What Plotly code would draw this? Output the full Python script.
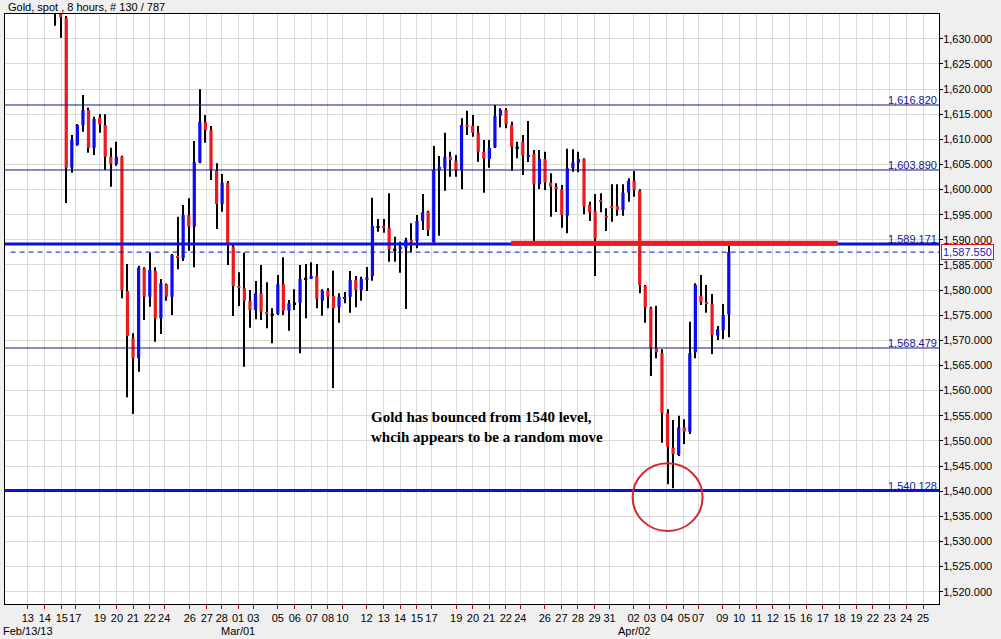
import plotly.graph_objects as go

# ---------------- data (8-hour candles, index = bar number) ----------------
bar_idx = list(range(9, 131))

opens = [1641.0, 1636.5, 1634.1, 1604.35, 1608.86, 1612.84, 1615.83, 1608.33, 1614.29, 1612.84,
         1606.53, 1605.08, 1606.53, 1579.82, 1570.41, 1566.43, 1584.33, 1578.68, 1583.8, 1574.39,
         1581.15, 1578.68, 1586.78, 1586.33, 1594.94, 1592.61, 1605.42, 1613.38, 1611.85, 1603.75,
         1597.13, 1601.36, 1588.63, 1580.81, 1580.35, 1577.83, 1576.04, 1579.36, 1575.58, 1575.18,
         1575.24, 1581.15, 1575.9, 1577.37, 1577.49, 1582.34, 1582.27, 1582.8, 1577.88, 1579.87,
         1578.82, 1576.57, 1578.23, 1578.68, 1582.0, 1580.02, 1582.0, 1582.8, 1592.61, 1592.75,
         1592.41, 1588.11, 1588.17, 1588.43, 1589.96, 1589.76, 1593.74, 1595.59, 1589.51, 1603.89,
         1604.23, 1606.53, 1605.68, 1603.89, 1612.9, 1612.64, 1611.31, 1607.53, 1606.08, 1608.41,
         1614.69, 1615.83, 1612.84, 1608.41, 1609.52, 1606.67, 1607.07, 1601.04, 1606.08, 1601.36,
         1600.57, 1600.05, 1594.8, 1604.29, 1605.34, 1606.08, 1596.93, 1595.73, 1597.92, 1594.6,
         1596.73, 1596.73, 1595.93, 1599.37, 1601.76, 1599.77, 1580.81, 1576.38, 1568.42, 1567.42,
         1555.49, 1548.64, 1547.19, 1552.7, 1551.83, 1567.62, 1578.82, 1577.49, 1577.23, 1570.93,
         1572.06, 1575.18]
highs = [1645.0, 1637.5, 1634.5, 1610.85, 1613.04, 1618.81, 1616.29, 1614.49, 1614.97, 1614.97,
         1608.33, 1609.52, 1606.73, 1585.19, 1571.4, 1584.85, 1584.53, 1587.44, 1584.53, 1582.2,
         1581.3, 1587.2, 1594.6, 1596.93, 1598.26, 1609.66, 1619.95, 1614.83, 1612.64, 1605.22,
         1603.09, 1601.7, 1588.97, 1583.54, 1587.44, 1580.02, 1581.81, 1584.99, 1581.55, 1576.38,
         1583.0, 1586.52, 1578.03, 1580.16, 1584.99, 1585.19, 1585.53, 1585.19, 1580.16, 1580.35,
         1583.86, 1579.36, 1579.62, 1583.8, 1582.8, 1582.66, 1584.6, 1598.38, 1594.14, 1594.14,
         1599.25, 1590.62, 1589.63, 1590.42, 1593.28, 1594.93, 1599.11, 1595.79, 1608.66, 1606.67,
         1611.31, 1607.53, 1606.87, 1614.17, 1615.69, 1614.83, 1612.64, 1609.86, 1609.86, 1616.82,
         1616.16, 1616.16, 1613.5, 1609.5, 1610.85, 1613.64, 1607.87, 1607.87, 1607.53, 1603.23,
         1601.24, 1600.91, 1608.1, 1608.0, 1607.53, 1606.2, 1597.58, 1599.12, 1599.25, 1596.27,
         1601.04, 1601.04, 1601.04, 1602.24, 1603.7, 1600.05, 1581.01, 1576.7, 1576.9, 1568.22,
         1556.28, 1554.16, 1555.01, 1554.3, 1573.71, 1581.35, 1583.0, 1581.01, 1579.22, 1572.85,
         1577.23, 1588.83]
lows = [1632.6, 1630.2, 1597.3, 1603.35, 1608.72, 1611.51, 1607.33, 1606.87, 1611.31, 1603.89,
        1600.57, 1604.75, 1578.36, 1558.67, 1555.35, 1563.76, 1574.05, 1576.69, 1569.73, 1571.27,
        1577.88, 1575.04, 1584.13, 1585.79, 1587.84, 1584.53, 1605.22, 1609.32, 1601.9, 1592.15,
        1595.6, 1584.99, 1574.84, 1576.83, 1564.76, 1572.51, 1574.19, 1574.05, 1572.4, 1569.41,
        1575.04, 1575.04, 1571.92, 1576.04, 1567.42, 1574.39, 1582.2, 1576.38, 1574.9, 1576.38,
        1560.5, 1573.51, 1577.37, 1575.5, 1576.57, 1577.88, 1579.82, 1581.87, 1591.62, 1591.42,
        1585.65, 1585.65, 1583.46, 1576.24, 1587.52, 1588.32, 1591.95, 1590.76, 1589.31, 1590.8,
        1599.77, 1602.56, 1602.56, 1600.05, 1610.85, 1610.51, 1605.54, 1599.37, 1604.35, 1608.27,
        1612.37, 1612.18, 1603.69, 1606.2, 1602.89, 1605.5, 1589.63, 1600.11, 1599.91, 1594.6,
        1595.53, 1592.41, 1591.3, 1603.55, 1603.42, 1595.07, 1593.74, 1582.8, 1595.47, 1591.75,
        1593.61, 1594.8, 1594.8, 1597.58, 1598.58, 1579.36, 1573.51, 1562.91, 1566.43, 1549.64,
        1541.36, 1540.57, 1546.99, 1549.38, 1551.37, 1566.43, 1577.03, 1575.5, 1567.29, 1570.07,
        1570.27, 1570.61]
closes = [1638.0, 1634.3, 1604.35, 1609.86, 1612.84, 1615.83, 1608.33, 1614.04, 1612.98, 1606.53,
          1605.08, 1606.53, 1580.0, 1570.87, 1566.43, 1584.46, 1578.68, 1584.0, 1574.39, 1581.35,
          1578.68, 1586.98, 1586.44, 1594.94, 1592.61, 1605.42, 1613.5, 1611.85, 1603.89, 1597.13,
          1601.36, 1588.97, 1580.81, 1580.47, 1577.88, 1576.04, 1579.36, 1575.7, 1575.24, 1575.18,
          1581.15, 1575.9, 1577.37, 1577.37, 1582.2, 1582.34, 1582.8, 1578.23, 1579.87, 1578.68,
          1576.38, 1578.68, 1578.56, 1582.0, 1580.02, 1582.2, 1582.54, 1592.75, 1592.61, 1592.42,
          1588.11, 1588.11, 1588.63, 1589.96, 1589.63, 1593.74, 1595.47, 1591.95, 1603.89, 1604.55,
          1606.53, 1605.88, 1603.89, 1612.84, 1612.5, 1611.31, 1607.53, 1606.2, 1608.27, 1614.63,
          1615.83, 1612.98, 1608.53, 1608.41, 1606.73, 1606.87, 1601.04, 1606.08, 1601.44, 1600.57,
          1600.11, 1594.94, 1604.23, 1605.34, 1606.08, 1596.59, 1595.47, 1590.3, 1597.58, 1594.4,
          1596.47, 1595.93, 1599.37, 1601.76, 1599.91, 1581.01, 1576.57, 1568.42, 1567.62, 1555.49,
          1548.84, 1547.39, 1552.7, 1551.83, 1567.42, 1581.01, 1577.57, 1577.37, 1571.07, 1572.2,
          1575.04, 1587.55]

# day ticks (bar positions) and their labels
tick_pos = [4.1, 7.15, 10.2, 12.6, 17.05, 20.1, 23.0, 26.0, 28.6, 33.2, 36.25, 38.95, 41.85, 44.6,
            49.0, 52.05, 55.1, 58.0, 60.6, 64.95, 68.05, 70.95, 74.0, 76.6, 81.05, 84.05, 86.95,
            89.95, 92.55, 96.95, 99.95, 102.9, 105.9, 108.6, 112.9, 115.85, 118.9, 121.95, 124.5,
            128.85, 131.85, 134.95, 137.9, 140.9, 143.9, 146.9, 149.9, 152.9, 155.9, 158.9, 161.9,
            164.9]
tick_text = ["13", "14", "15", "17", "19", "20", "21", "22", "24", "26", "27", "28", "01", "03",
             "05", "06", "07", "08", "10", "12", "13", "14", "15", "17", "19", "20", "21", "22",
             "24", "26", "27", "28", "29", "31", "02", "03", "04", "05", "07", "09", "10", "11",
             "12", "15", "16", "17", "18", "19", "22", "23", "24", "25"]
month_pos = [4.1, 41.85, 112.9]
month_text = ["Feb/13/13", "Mar/01", "Apr/02"]

levels = [1616.820, 1603.890, 1589.171, 1568.479, 1540.128]
level_thick = [False, False, True, False, True]
last_price = 1587.550
resist_level = 1589.30
resist_from, resist_to = 90.9, 149.6
circle_box = (112.73, 125.3, 1532.07, 1545.54)
note_lines = ["Gold has bounced from 1540 level,", "whcih appears to be a random move"]
note_x = 65.7
note_y = [1554.75, 1550.77]

# ---------------- styles ----------------
UP = "#0c0cee"
DOWN = "#ea1a1e"
NAVY = "#16168f"
THICK_BLUE = "#0a14d8"
FONT = "Arial, Liberation Sans, sans-serif"
X_RANGE = [0, 167.76]
Y_RANGE = [1517.55, 1634.92]

body_base, body_h, body_col = [], [], []
for o, c in zip(opens, closes):
    lo, hi = min(o, c), max(o, c)
    h = hi - lo
    if h < 0.3:
        mid = (lo + hi) / 2
        body_base.append(mid - 0.15)
        body_h.append(0.3)
    else:
        body_base.append(lo)
        body_h.append(h)
    body_col.append(UP if c > o else (DOWN if c < o else "#000000"))

fig = go.Figure()
fig.add_trace(go.Bar(x=bar_idx, y=[h - l for h, l in zip(highs, lows)], base=lows, width=0.19,
                     marker=dict(color="#000000", line=dict(width=0)), hoverinfo="skip"))
fig.add_trace(go.Bar(x=bar_idx, y=body_h, base=body_base, width=0.58,
                     marker=dict(color=body_col, line=dict(width=0)), hoverinfo="skip"))

shapes = []
for lv, thick in zip(levels, level_thick):
    shapes.append(dict(type="line", xref="paper", x0=0, x1=1, yref="y", y0=lv, y1=lv,
                       line=dict(color=THICK_BLUE if thick else NAVY, width=3 if thick else 1)))
shapes.append(dict(type="line", xref="paper", x0=0.006, x1=1, yref="y", y0=last_price, y1=last_price,
                   line=dict(color=NAVY, width=1, dash="5px,4px")))
shapes.append(dict(type="line", xref="x", x0=resist_from, x1=resist_to, yref="y",
                   y0=resist_level, y1=resist_level, line=dict(color="#ec1c24", width=5)))
shapes.append(dict(type="circle", xref="x", yref="y", x0=circle_box[0], x1=circle_box[1],
                   y0=circle_box[2], y1=circle_box[3], line=dict(color="#d42a2e", width=2)))

ann = []
ann.append(dict(text="Gold, spot , 8 hours, # 130 / 787", xref="paper", yref="paper", x=0.001,
                y=1.012, xanchor="left", yanchor="middle", showarrow=False,
                font=dict(family=FONT, size=11, color="#000000")))
for lv in levels:
    ann.append(dict(text=f"{lv:,.3f}", xref="paper", yref="y", x=1, y=lv, xanchor="right",
                    yanchor="bottom", xshift=0, yshift=-3, showarrow=False,
                    font=dict(family=FONT, size=11, color=NAVY)))
ann.append(dict(text=f"{last_price:,.3f}", xref="paper", yref="y", x=1, y=last_price,
                xanchor="left", yanchor="middle", xshift=2, showarrow=False, bgcolor="#ffffff",
                bordercolor="#e01010", borderwidth=1, borderpad=1,
                font=dict(family=FONT, size=11, color="#1a1aae")))
for mp, mt in zip(month_pos, month_text):
    ann.append(dict(text=mt, xref="x", yref="paper", x=mp, y=-0.045, xanchor="center",
                    yanchor="middle", showarrow=False, font=dict(family=FONT, size=11, color="#000000")))
for t, yy in zip(note_lines, note_y):
    ann.append(dict(text=f"<b>{t}</b>", xref="x", yref="y", x=note_x, y=yy, xanchor="left",
                    yanchor="middle", xshift=-2, showarrow=False,
                    font=dict(family="Liberation Serif, Times New Roman, serif", size=15, color="#000000")))

fig.update_layout(
    width=1001, height=639, margin=dict(l=5, r=62, t=14, b=35),
    paper_bgcolor="#efefef", plot_bgcolor="#ffffff", barmode="overlay", showlegend=False,
    shapes=shapes, annotations=ann,
    xaxis=dict(range=X_RANGE, tickmode="array", tickvals=tick_pos, ticktext=tick_text, tickangle=0,
               ticks="outside", ticklen=4, tickcolor="#c00000", showgrid=True, gridcolor="#dadada",
               gridwidth=1, showline=True, linecolor="#000000", linewidth=1, mirror=True,
               zeroline=False, tickfont=dict(family=FONT, size=11, color="#000000")),
    yaxis=dict(range=Y_RANGE, side="right", tick0=1520, dtick=5, tickformat=",.3f",
               ticks="outside", ticklen=3, tickcolor="#000000", showgrid=True, gridcolor="#dadada",
               gridwidth=1, showline=True, linecolor="#000000", linewidth=1, mirror=True,
               ticklabelstandoff=-2,
               zeroline=False, tickfont=dict(family=FONT, size=11, color="#000000")),
)

fig.write_html("out.html", config={"displayModeBar": False},
               post_script="document.body.style.margin='0';document.body.style.padding='0';"
                           "document.body.style.overflow='hidden';")
